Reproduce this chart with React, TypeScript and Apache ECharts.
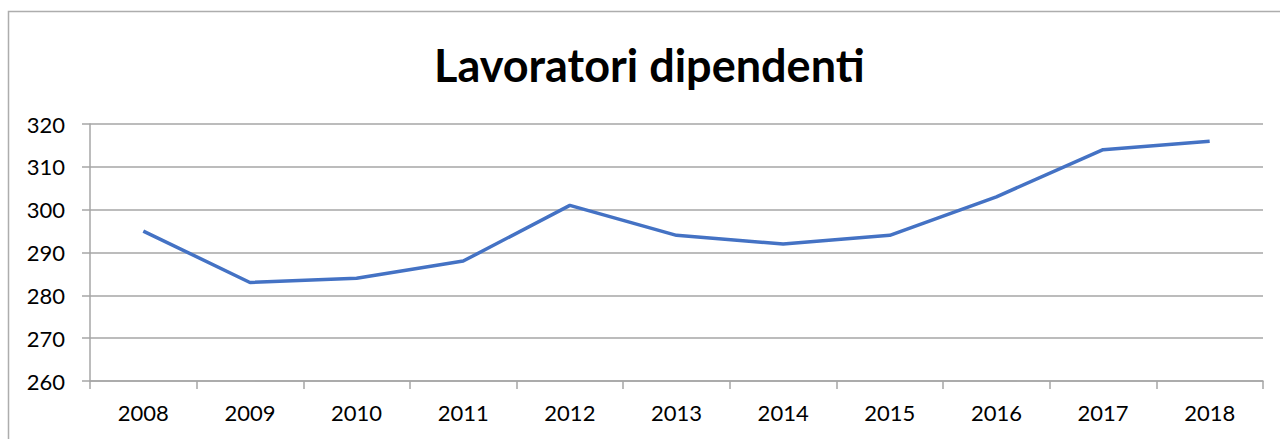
import React, { useEffect, useRef } from "react";
import * as echarts from "echarts";

const years = ["2008", "2009", "2010", "2011", "2012", "2013", "2014", "2015", "2016", "2017", "2018"];
const workers = [295, 283, 284, 288, 301, 294, 292, 294, 303, 314, 316];
const titleText = "Lavoratori dipendenti";

export default function App() {
  const ref = useRef<HTMLDivElement>(null);
  useEffect(() => {
    const chart = echarts.init(ref.current!, null, { renderer: "svg" });
    chart.setOption({
      animation: false,
      backgroundColor: "#ffffff",
      title: {
        text: titleText,
        left: 434,
        top: 42,
        padding: 0,
        textStyle: { fontFamily: "Lato", fontWeight: "bold", fontSize: 45, color: "#000000" },
      },
      graphic: [
        {
          type: "rect",
          shape: { x: 8.5, y: 11.5, width: 1290, height: 450 },
          style: { fill: "none", stroke: "#adadad", lineWidth: 1.5 },
          silent: true,
        },
      ],
      grid: { left: 90, top: 124, right: 17, bottom: 58 },
      xAxis: {
        type: "category",
        data: years,
        boundaryGap: true,
        axisLine: { lineStyle: { color: "#a6a6a6", width: 1.5 } },
        axisTick: { show: true, length: 8, lineStyle: { color: "#a6a6a6", width: 1.5 } },
        axisLabel: { color: "#000000", fontFamily: "Lato", fontSize: 22, margin: 20 },
      },
      yAxis: {
        type: "value",
        min: 260,
        max: 320,
        interval: 10,
        axisLine: { show: true, lineStyle: { color: "#a6a6a6", width: 1.5 } },
        axisTick: { show: true, length: 8, lineStyle: { color: "#a6a6a6", width: 1.5 } },
        axisLabel: { color: "#000000", fontFamily: "Lato", fontSize: 22, margin: 25 },
        splitLine: { lineStyle: { color: "#a6a6a6", width: 1.5 } },
      },
      series: [
        {
          type: "line",
          data: workers,
          symbol: "none",
          lineStyle: { color: "#4472C4", width: 3.5 },
        },
      ],
    });
    return () => chart.dispose();
  }, []);
  return (
    <div style={{ position: "fixed", left: 0, top: 0, width: 1280, height: 439, background: "#fff" }}>
      <div ref={ref} style={{ width: 1280, height: 439 }} />
    </div>
  );
}
